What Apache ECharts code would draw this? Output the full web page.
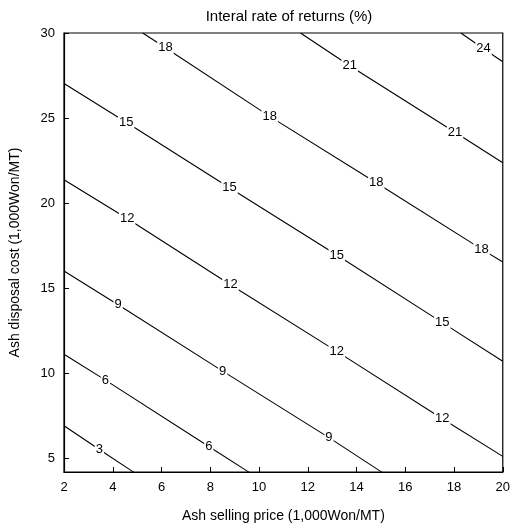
<!DOCTYPE html>
<html>
<head>
<meta charset="utf-8">
<script src="https://cdn.jsdelivr.net/npm/echarts/dist/echarts.min.js"></script>
<style>
  html, body { margin: 0; padding: 0; background: #fff; overflow: hidden; }
  #chart { width: 513px; height: 528px; }
</style>
</head>
<body>
<div id="chart"></div>
<script>
  // contour levels (IRR %)
  var levels = [3, 6, 9, 12, 15, 18, 21, 24];

  // contour paths: [ash selling price, ash disposal cost]
  var contour3 = [[2, 6.92], [3.45, 5.52], [4.87, 4.18]];
  var contour6 = [[2, 11.12], [3.70, 9.60], [7.94, 5.70], [9.60, 4.18]];
  var contour9 = [[2, 16.01], [4.22, 14.03], [8.51, 10.13], [12.87, 6.22], [15.05, 4.18]];
  var contour12 = [[2, 21.38], [4.59, 19.10], [8.83, 15.20], [13.19, 11.29], [17.52, 7.33], [20, 5.12]];
  var contour15 = [[2, 27.03], [4.55, 24.76], [8.79, 20.91], [13.19, 16.95], [17.52, 12.98], [20, 10.71]];
  var contour18 = [[5.23, 30], [6.16, 29.13], [10.44, 25.10], [14.81, 21.20], [19.13, 17.30], [20, 16.54]];
  var contour21 = [[11.70, 30], [13.72, 28.08], [18.04, 24.17], [20, 22.37]];
  var contour24 = [[18.28, 30], [19.21, 29.07], [20, 28.31]];

  // where the level labels sit on each contour
  var labels3 = [[3.45, 5.52]];
  var labels6 = [[3.70, 9.60], [7.94, 5.70]];
  var labels9 = [[4.22, 14.03], [8.51, 10.13], [12.87, 6.22]];
  var labels12 = [[4.59, 19.10], [8.83, 15.20], [13.19, 11.29], [17.52, 7.33]];
  var labels15 = [[4.55, 24.76], [8.79, 20.91], [13.19, 16.95], [17.52, 12.98]];
  var labels18 = [[6.16, 29.13], [10.44, 25.10], [14.81, 21.20], [19.13, 17.30]];
  var labels21 = [[13.72, 28.08], [18.04, 24.17]];
  var labels24 = [[19.21, 29.07]];

  var xTicks = [2, 4, 6, 8, 10, 12, 14, 16, 18, 20];
  var yTicks = [5, 10, 15, 20, 25, 30];

  var contours = [contour3, contour6, contour9, contour12, contour15, contour18, contour21, contour24];
  var labelSets = [labels3, labels6, labels9, labels12, labels15, labels18, labels21, labels24];
  var font = 'Liberation Sans, Arial, sans-serif';

  var series = [];
  levels.forEach(function (lv, i) {
    series.push({
      name: 'IRR ' + lv,
      type: 'line',
      data: contours[i],
      symbol: 'none',
      lineStyle: { color: '#000', width: 1.1 },
      z: 2,
      animation: false
    });
    series.push({
      type: 'scatter',
      data: labelSets[i],
      symbolSize: 0,
      itemStyle: { opacity: 1, color: '#000' },
      z: 5,
      label: {
        show: true,
        position: 'inside',
        formatter: String(lv),
        color: '#000',
        opacity: 1,
        fontSize: 13,
        fontFamily: font,
        backgroundColor: '#fff',
        padding: [0, 1]
      },
      animation: false
    });
  });

  var chart = echarts.init(document.getElementById('chart'));
  chart.setOption({
    backgroundColor: '#fff',
    title: {
      text: 'Interal rate of returns (%)',
      left: 284,
      textAlign: 'center',
      top: 4,
      textStyle: { fontSize: 15, fontWeight: 'normal', color: '#000', fontFamily: font }
    },
    grid: {
      left: 60,
      right: 6,
      top: 33,
      bottom: 52,
      show: true,
      borderColor: '#000',
      borderWidth: 1.2
    },
    xAxis: {
      type: 'value',
      min: 2,
      max: 20,
      interval: 2,
      name: 'Ash selling price (1,000Won/MT)',
      nameLocation: 'middle',
      nameGap: 37,
      nameTextStyle: { fontSize: 14, color: '#000', fontFamily: font },
      axisLine: { show: true, lineStyle: { color: '#000', width: 1.2 } },
      axisTick: { show: true, inside: true, length: 5, lineStyle: { color: '#000' } },
      axisLabel: { customValues: xTicks, margin: 9, fontSize: 13, color: '#000', fontFamily: font },
      splitLine: { show: false }
    },
    yAxis: {
      type: 'value',
      min: 4.2,
      max: 30,
      name: 'Ash disposal cost (1,000Won/MT)',
      nameLocation: 'middle',
      nameGap: 42,
      nameTextStyle: { fontSize: 14, color: '#000', fontFamily: font },
      axisLine: { show: true, lineStyle: { color: '#000', width: 1.2 } },
      axisTick: { show: true, inside: true, length: 5, customValues: yTicks, lineStyle: { color: '#000' } },
      axisLabel: { customValues: yTicks, margin: 9, fontSize: 13, color: '#000', fontFamily: font },
      splitLine: { show: false }
    },
    series: series
  });
</script>
</body>
</html>
